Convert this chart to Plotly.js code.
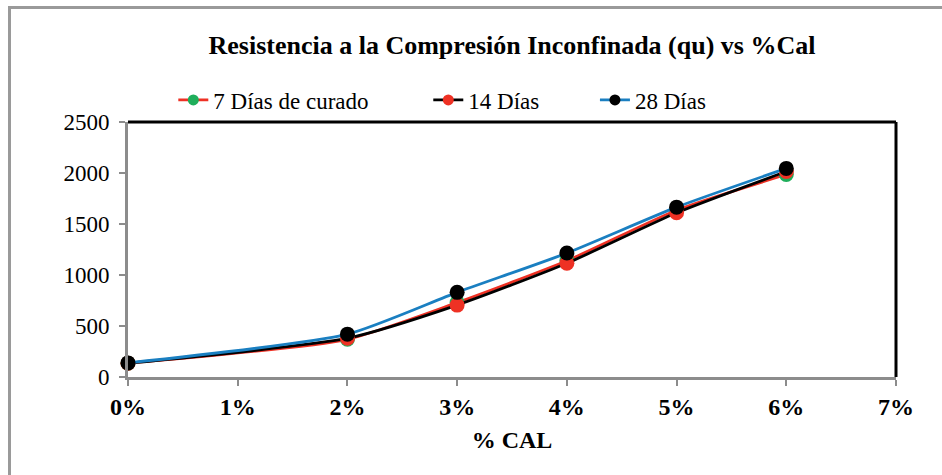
<!DOCTYPE html>
<html>
<head>
<meta charset="utf-8">
<script src="https://cdn.plot.ly/plotly-3.0.1.min.js"></script>
<style>
  html, body { margin: 0; padding: 0; background: #fff; }
  #wrap { position: relative; width: 942px; height: 475px; }
  #chart { width: 942px; height: 475px; }
  #frame { position: absolute; left: 8px; top: 6px; right: -5px; bottom: -5px;
           border-left: 3px solid #9a9a9a; border-top: 3px solid #9a9a9a; pointer-events: none; }
</style>
</head>
<body>
<div id="wrap">
  <div id="chart"></div>
  <div id="frame"></div>
</div>
<script>
const cal = [0, 0.02, 0.03, 0.04, 0.05, 0.06];
const dias7 = [135, 370, 730, 1140, 1635, 1985];
const dias14 = [135, 380, 705, 1115, 1610, 2015];
const dias28 = [138, 420, 830, 1215, 1665, 2045];
const seriesNames = ["7 Días de curado", "14 Días", "28 Días"];
const xTicks = [0, 0.01, 0.02, 0.03, 0.04, 0.05, 0.06, 0.07];
const xTickText = ["0%", "1%", "2%", "3%", "4%", "5%", "6%", "7%"];
const yTicks = [0, 500, 1000, 1500, 2000, 2500];

const serif = "Liberation Serif, Times New Roman, serif";
const lineColors = ["#ee3124", "#000000", "#1a7fc1"];
const markerColors = ["#1fae5b", "#ee3124", "#000000"];
const values = [dias7, dias14, dias28];
const legendIds = ["legend", "legend2", "legend3"];
const legendX = [0.059, 0.391, 0.608];

const data = [];
values.forEach(function (y, i) {
  data.push({
    x: cal, y: y, name: seriesNames[i], type: "scatter", mode: "lines+markers",
    line: { color: lineColors[i], width: 2.8, shape: "spline", smoothing: 0.6 },
    marker: { color: markerColors[i], size: 15 },
    cliponaxis: false, showlegend: false
  });
});
// legend entries (smaller legend markers, like the original)
values.forEach(function (y, i) {
  data.push({
    x: [null], y: [null], name: seriesNames[i], type: "scatter", mode: "lines+markers",
    line: { color: lineColors[i], width: 2.8 },
    marker: { color: markerColors[i], size: 11 },
    showlegend: true, legend: legendIds[i]
  });
});

const layout = {
  width: 942, height: 475,
  margin: { l: 128, r: 46, t: 122, b: 98 },
  paper_bgcolor: "#ffffff", plot_bgcolor: "#ffffff",
  font: { family: serif, color: "#000", size: 22 },
  title: {
    text: "<b>Resistencia a la Compresión Inconfinada (qu) vs %Cal</b>",
    font: { family: serif, size: 26, color: "#000" },
    x: 0.5, xanchor: "center", y: 1 - 45/475, yanchor: "middle", xref: "paper"
  },
  showlegend: true,
  xaxis: {
    range: [0, 0.07], tickvals: xTicks, ticktext: xTickText,
    showgrid: false, zeroline: false,
    showline: true, linecolor: "#8c8c8c", linewidth: 3,
    ticks: "outside", ticklen: 6, tickcolor: "#8c8c8c", tickwidth: 2,
    tickfont: { family: serif, size: 24, color: "#000", weight: "bold" },
    title: { text: "<b>% CAL</b>", font: { family: serif, size: 24, color: "#000" }, standoff: 13 }
  },
  yaxis: {
    range: [0, 2500], tickvals: yTicks,
    showgrid: false, zeroline: false,
    showline: true, linecolor: "#8c8c8c", linewidth: 3,
    ticks: "outside", ticklen: 6, tickcolor: "#8c8c8c", tickwidth: 2,
    ticklabelstandoff: 5,
    tickfont: { family: serif, size: 23, color: "#000" }
  },
  shapes: [
    { type: "line", xref: "paper", yref: "paper", x0: 0, x1: 1, y0: 1, y1: 1, line: { color: "#000", width: 3 } },
    { type: "line", xref: "paper", yref: "paper", x0: 1, x1: 1, y0: 0, y1: 1, line: { color: "#000", width: 3 } }
  ]
};
legendIds.forEach(function (id, i) {
  layout[id] = {
    orientation: "h", x: legendX[i], xanchor: "left", y: 1 + 22/255, yanchor: "middle",
    font: { family: serif, size: 23, color: "#000" },
    bgcolor: "rgba(0,0,0,0)"
  };
});

Plotly.newPlot("chart", data, layout, { displayModeBar: false, staticPlot: true });
</script>
</body>
</html>
